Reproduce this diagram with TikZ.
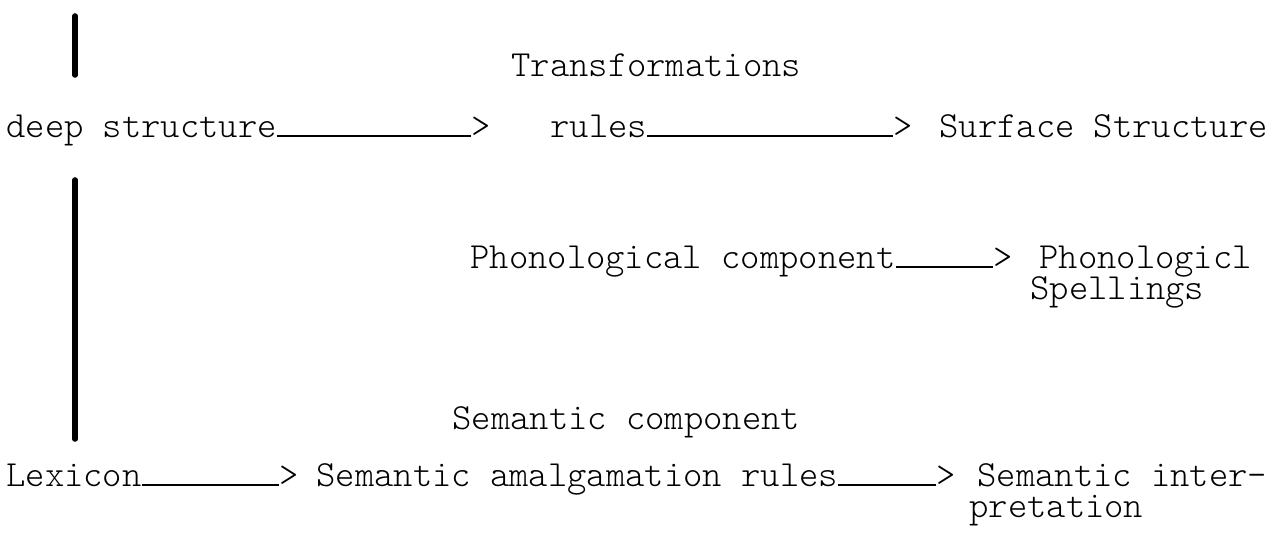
\documentclass[tikz,border=0pt]{standalone}
\usepackage{fontspec}
\usepackage{xcolor}
\newfontfamily\typefont{Latin Modern Mono Light}
\setlength{\lineskiplimit}{-10pt}

\begin{document}
\begin{tikzpicture}[x=0.5pt, y=-0.5pt,
  every node/.style={font=\typefont\fontsize{18.4}{15.5}\selectfont, inner sep=0pt, anchor=base west},
  link/.style={line width=1.2pt},
  bar/.style={line width=2.8pt, line cap=round}]
\useasboundingbox (0,0) rectangle (1280,533);
% Syntax
\node (trans) at (511,77) {Transformations};
\node (deep) at (6,138) {deep structure};
\node (tipA) at (471,138) {>};
\node (rules) at (550,138) {rules};
\node (tipB) at (893,138) {>};
\node (surface) at (939,138) {Surface Structure};
\draw[link] ([yshift=1pt]deep.base east) -- ([yshift=1pt]tipA.base west);
\draw[link] ([yshift=1pt]rules.base east) -- ([yshift=1pt]tipB.base west);
% Phonology (base = last line)
\node (phon) at (470,269) {Phonological component};
\node (tipC) at (993,269) {>};
\node[align=left] (spell) at (1039,300) {Phonologicl\\\hspace*{-4.5pt}Spellings};
\draw[link] ([yshift=1pt]phon.base east) -- ([yshift=1pt]tipC.base west);
% Semantics
\node (semcomp) at (452,430) {Semantic component};
\node (lex) at (6,487) {Lexicon};
\node (tipD) at (279,487) {>};
\node (amalg) at (316,487) {Semantic amalgamation rules};
\node (tipE) at (936,487) {>};
\node[align=left] (interp) at (977,518) {Semantic inter-\\\hspace*{-4pt}pretation};
\draw[link] ([yshift=1pt]lex.base east) -- ([yshift=1pt]tipD.base west);
\draw[link] ([yshift=1pt]amalg.base east) -- ([yshift=1pt]tipE.base west);
% bars
\draw[bar] (75,16) -- (75,75);
\draw[bar] (75,180) -- (75,439);
\end{tikzpicture}
\end{document}
